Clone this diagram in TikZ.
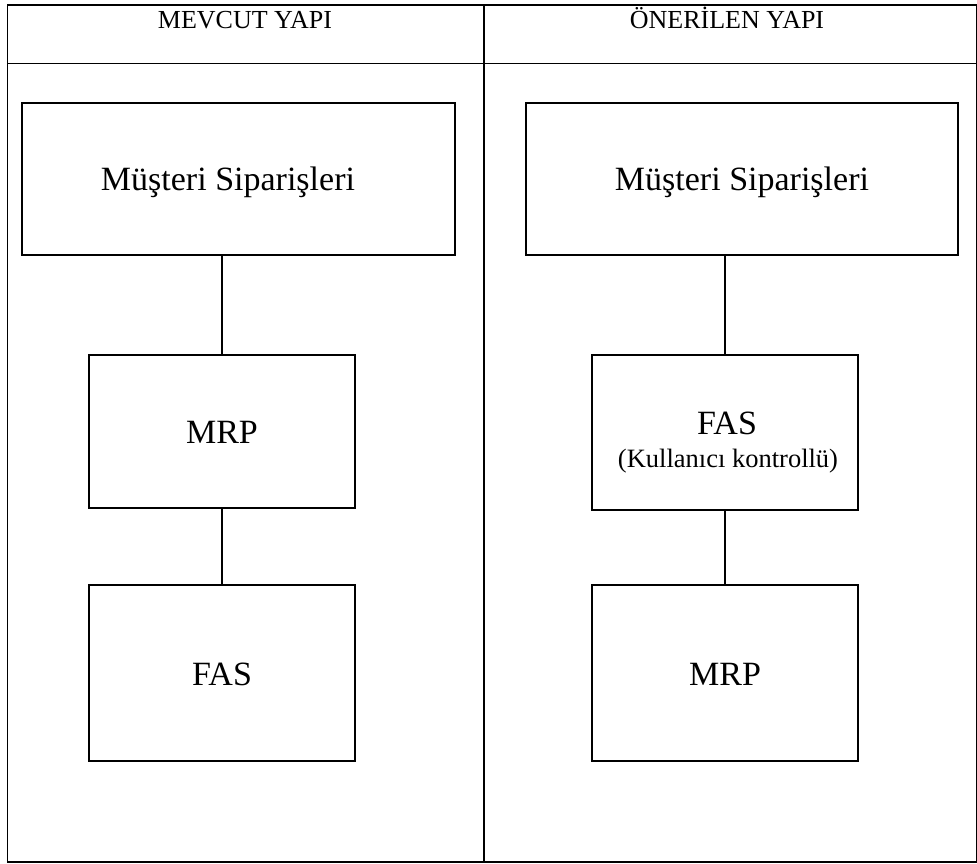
\documentclass[tikz,border=0pt]{standalone}
\usepackage{fontspec}
\setmainfont{Liberation Serif}
\begin{document}
\begin{tikzpicture}[x=1pt,y=-1pt,
  frame/.style={line width=1.6pt},
  box/.style={draw,line width=1.3pt,rectangle,inner sep=0pt},
  link/.style={line width=1.4pt},
  head/.style={anchor=base,inner sep=0pt,font=\fontsize{26}{30}\selectfont},
  big/.style={anchor=base,inner sep=0pt,font=\fontsize{34}{40}\selectfont},
  small/.style={anchor=base,inner sep=0pt,font=\fontsize{26.5}{30}\selectfont}]
\useasboundingbox (0,0) rectangle (977,864);
% table frame
\draw[frame] (7.5,5) rectangle (976.5,862);
\draw[frame] (7.5,63.5) -- (976.5,63.5);
\draw[frame] (484,5) -- (484,862);
% column headings
\node[head] (h1) at (245,29) {MEVCUT YAPI};
\node[head] (h2) at (727,29) {ÖNERİLEN YAPI};
% left column: current structure
\node[box,minimum width=433pt,minimum height=152pt] (mus1) at (238.5,179) {};
\node[box,minimum width=266pt,minimum height=153pt] (mrp1) at (222,431.5) {};
\node[box,minimum width=266pt,minimum height=176pt] (fas1) at (222,673) {};
\node[big] (t1) at (228,190) {Müşteri Siparişleri};
\node[big] (t2) at (222,443) {MRP};
\node[big] (t3) at (222,685) {FAS};
\draw[link] (mrp1.north) -- (mrp1.north |- mus1.south);
\draw[link] (fas1.north) -- (fas1.north |- mrp1.south);
% right column: proposed structure
\node[box,minimum width=432pt,minimum height=152pt] (mus2) at (742,179) {};
\node[box,minimum width=266pt,minimum height=155pt] (fas2) at (725,432.5) {};
\node[box,minimum width=266pt,minimum height=176pt] (mrp2) at (725,673) {};
\node[big] (t4) at (742,190) {Müşteri Siparişleri};
\node[big] (t5) at (727,434) {FAS};
\node[small] (t6) at (728,467) {(Kullanıcı kontrollü)};
\node[big] (t7) at (725,685) {MRP};
\draw[link] (fas2.north) -- (fas2.north |- mus2.south);
\draw[link] (mrp2.north) -- (mrp2.north |- fas2.south);
\end{tikzpicture}
\end{document}
